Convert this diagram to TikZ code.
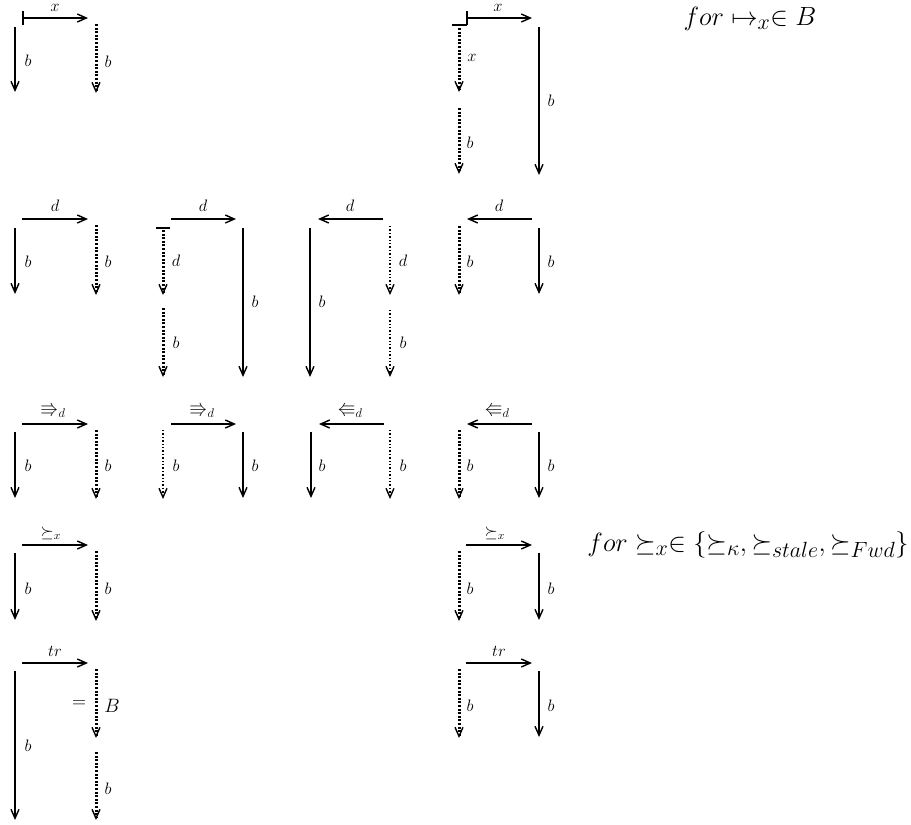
\documentclass[tikz,border=0pt]{standalone}
\usepackage{amssymb}
\usetikzlibrary{arrows.meta}
\tikzset{
  tip/.style={-{Straight Barb[length=9pt,width=8pt,line width=1.4pt]}},
  sol/.style={tip,line width=1.7pt},
  solk/.style={tip,line width=2.8pt},
  dotk/.style={tip,line width=3pt,dash pattern=on 2pt off 1.6pt},
  dotn/.style={tip,line width=1.7pt,dash pattern=on 1.4pt off 2pt},
  mapsto/.style={{Bar[width=14pt,line width=1.7pt]}-{Straight Barb[length=9pt,width=8pt,line width=1.4pt]},line width=1.7pt},
  bar/.style={line width=2.2pt},
  lab/.style={inner sep=0pt,font=\fontsize{14.4}{17}\selectfont,scale=1.15},
  arl/.style={inner sep=0pt,font=\fontsize{17.28}{20}\selectfont,scale=1.05},
  big/.style={inner sep=0pt,font=\fontsize{17.28}{21}\selectfont,scale=1.12},
  txt/.style={inner sep=0pt,font=\fontsize{24.88}{30}\selectfont,scale=1.06}
}
\newcommand{\C}[3]{\coordinate (#1) at (#2,#3);}
\begin{document}
\begin{tikzpicture}[x=1pt,y=-1pt]
\useasboundingbox (0,0) rectangle (911,825);
% ---------- D1
\C{a1}{22}{18}\C{a2}{88}{18}\C{a3}{15}{27}\C{a4}{15}{92}\C{a5}{96}{24}\C{a6}{96}{93}
\draw[mapsto] (a1) -- (a2);
\draw[sol] (a3) -- (a4);
\draw[dotk] (a5) -- (a6);
\node[lab] (la1) at (55,8) {$x$};
\node[lab] (la2) at (28,61) {$b$};
\node[lab] (la3) at (108,62) {$b$};
% ---------- D2
\C{b1}{466}{18}\C{b2}{532}{18}\C{b3}{452}{25}\C{b4}{467}{25}
\C{b5}{459}{28}\C{b6}{459}{92}\C{b7}{459}{108}\C{b8}{459}{174}\C{b9}{539}{27}\C{b10}{539}{175}
\draw[mapsto] (b1) -- (b2);
\draw[bar] (b3) -- (b4);
\draw[dotk] (b5) -- (b6);
\draw[dotk] (b7) -- (b8);
\draw[sol] (b9) -- (b10);
\node[lab] (lb1) at (498,8) {$x$};
\node[lab] (lb2) at (472,58) {$x$};
\node[lab] (lb3) at (470,143) {$b$};
\node[lab] (lb4) at (551,101) {$b$};
\node[txt] (tb) at (750,19) {$for\mapsto_x\in B$};
% ---------- D3
\C{c1}{22}{219}\C{c2}{88}{219}\C{c3}{15}{228}\C{c4}{15}{294}\C{c5}{96}{225}\C{c6}{96}{295}
\draw[sol] (c1) -- (c2);
\draw[sol] (c3) -- (c4);
\draw[dotk] (c5) -- (c6);
\node[lab] (lc1) at (55,206) {$d$};
\node[lab] (lc2) at (28,262) {$b$};
\node[lab] (lc3) at (108,262) {$b$};
% ---------- D4
\C{d1}{171}{219}\C{d2}{236}{219}\C{d3}{156}{228}\C{d4}{170}{228}
\C{d5}{163}{230}\C{d6}{163}{295}\C{d7}{163}{308}\C{d8}{163}{377}\C{d9}{243}{228}\C{d10}{243}{377}
\draw[sol] (d1) -- (d2);
\draw[bar] (d3) -- (d4);
\draw[dotk] (d5) -- (d6);
\draw[dotk] (d7) -- (d8);
\draw[sol] (d9) -- (d10);
\node[lab] (ld1) at (203,206) {$d$};
\node[lab] (ld2) at (176,261) {$d$};
\node[lab] (ld3) at (176,343) {$b$};
\node[lab] (ld4) at (255,302) {$b$};
% ---------- D5
\C{e1}{383}{219}\C{e2}{318}{219}\C{e3}{310}{228}\C{e4}{310}{377}
\C{e5}{390}{226}\C{e6}{390}{295}\C{e7}{390}{310}\C{e8}{390}{377}
\draw[sol] (e1) -- (e2);
\draw[solk] (e3) -- (e4);
\draw[dotn] (e5) -- (e6);
\draw[dotn] (e7) -- (e8);
\node[lab] (le1) at (350,206) {$d$};
\node[lab] (le2) at (322,302) {$b$};
\node[lab] (le3) at (403,261) {$d$};
\node[lab] (le4) at (403,343) {$b$};
% ---------- D6
\C{f1}{532}{219}\C{f2}{467}{219}\C{f3}{459}{226}\C{f4}{459}{295}\C{f5}{539}{228}\C{f6}{539}{294}
\draw[sol] (f1) -- (f2);
\draw[dotk] (f3) -- (f4);
\draw[sol] (f5) -- (f6);
\node[lab] (lf1) at (499,206) {$d$};
\node[lab] (lf2) at (470,262) {$b$};
\node[lab] (lf3) at (551,262) {$b$};
% ---------- D7
\C{g1}{22}{424}\C{g2}{88}{424}\C{g3}{15}{432}\C{g4}{15}{498}\C{g5}{96}{430}\C{g6}{96}{499}
\draw[sol] (g1) -- (g2);
\draw[sol] (g3) -- (g4);
\draw[dotk] (g5) -- (g6);
\node[arl] (lg1) at (53,410) {$\Rrightarrow_d$};
\node[lab] (lg2) at (28,466) {$b$};
\node[lab] (lg3) at (108,466) {$b$};
% ---------- D8
\C{h1}{171}{424}\C{h2}{236}{424}\C{h3}{163}{430}\C{h4}{163}{499}\C{h5}{243}{432}\C{h6}{243}{498}
\draw[sol] (h1) -- (h2);
\draw[dotn] (h3) -- (h4);
\draw[solk] (h5) -- (h6);
\node[arl] (lh1) at (202,410) {$\Rrightarrow_d$};
\node[lab] (lh2) at (176,466) {$b$};
\node[lab] (lh3) at (255,466) {$b$};
% ---------- D9
\C{i1}{384}{424}\C{i2}{319}{424}\C{i3}{311}{432}\C{i4}{311}{498}\C{i5}{390}{430}\C{i6}{390}{499}
\draw[sol] (i1) -- (i2);
\draw[solk] (i3) -- (i4);
\draw[dotn] (i5) -- (i6);
\node[arl] (li1) at (350,410) {$\Lleftarrow_d$};
\node[lab] (li2) at (322,466) {$b$};
\node[lab] (li3) at (403,466) {$b$};
% ---------- D10
\C{j1}{532}{424}\C{j2}{467}{424}\C{j3}{459}{430}\C{j4}{459}{499}\C{j5}{539}{432}\C{j6}{539}{498}
\draw[sol] (j1) -- (j2);
\draw[dotk] (j3) -- (j4);
\draw[sol] (j5) -- (j6);
\node[arl] (lj1) at (497,410) {$\Lleftarrow_d$};
\node[lab] (lj2) at (470,466) {$b$};
\node[lab] (lj3) at (551,466) {$b$};
% ---------- D11
\C{k1}{22}{545}\C{k2}{88}{545}\C{k3}{15}{553}\C{k4}{15}{620}\C{k5}{96}{551}\C{k6}{96}{621}
\draw[sol] (k1) -- (k2);
\draw[sol] (k3) -- (k4);
\draw[dotk] (k5) -- (k6);
\node[lab] (lk1) at (51,533) {$\succeq_x$};
\node[lab] (lk2) at (28,589) {$b$};
\node[lab] (lk3) at (108,589) {$b$};
% ---------- D12
\C{m1}{466}{545}\C{m2}{532}{545}\C{m3}{459}{551}\C{m4}{459}{621}\C{m5}{539}{553}\C{m6}{539}{620}
\draw[sol] (m1) -- (m2);
\draw[dotk] (m3) -- (m4);
\draw[sol] (m5) -- (m6);
\node[lab] (lm1) at (495,533) {$\succeq_x$};
\node[lab] (lm2) at (470,589) {$b$};
\node[lab] (lm3) at (551,589) {$b$};
\node[txt] (tm) at (748,545) {$for\succeq_x\in\{\succeq_\kappa,\succeq_{stale},\succeq_{Fwd}\}$};
% ---------- D13
\C{n1}{22}{663}\C{n2}{88}{663}\C{n3}{15}{671}\C{n4}{15}{820}
\C{n5}{96}{669}\C{n6}{96}{738}\C{n7}{96}{752}\C{n8}{96}{820}
\draw[sol] (n1) -- (n2);
\draw[sol] (n3) -- (n4);
\draw[dotk] (n5) -- (n6);
\draw[dotk] (n7) -- (n8);
\node[lab] (ln1) at (55,651) {$tr$};
\node[lab] (ln2) at (28,746) {$b$};
\node[big] (ln3) at (79,704) {$=$};
\node[big] (ln4) at (112,706) {$B$};
\node[lab] (ln5) at (108,789) {$b$};
% ---------- D14
\C{p1}{466}{663}\C{p2}{532}{663}\C{p3}{459}{669}\C{p4}{459}{738}\C{p5}{539}{671}\C{p6}{539}{737}
\draw[sol] (p1) -- (p2);
\draw[dotk] (p3) -- (p4);
\draw[sol] (p5) -- (p6);
\node[lab] (lp1) at (499,651) {$tr$};
\node[lab] (lp2) at (470,706) {$b$};
\node[lab] (lp3) at (551,706) {$b$};
\end{tikzpicture}
\end{document}
